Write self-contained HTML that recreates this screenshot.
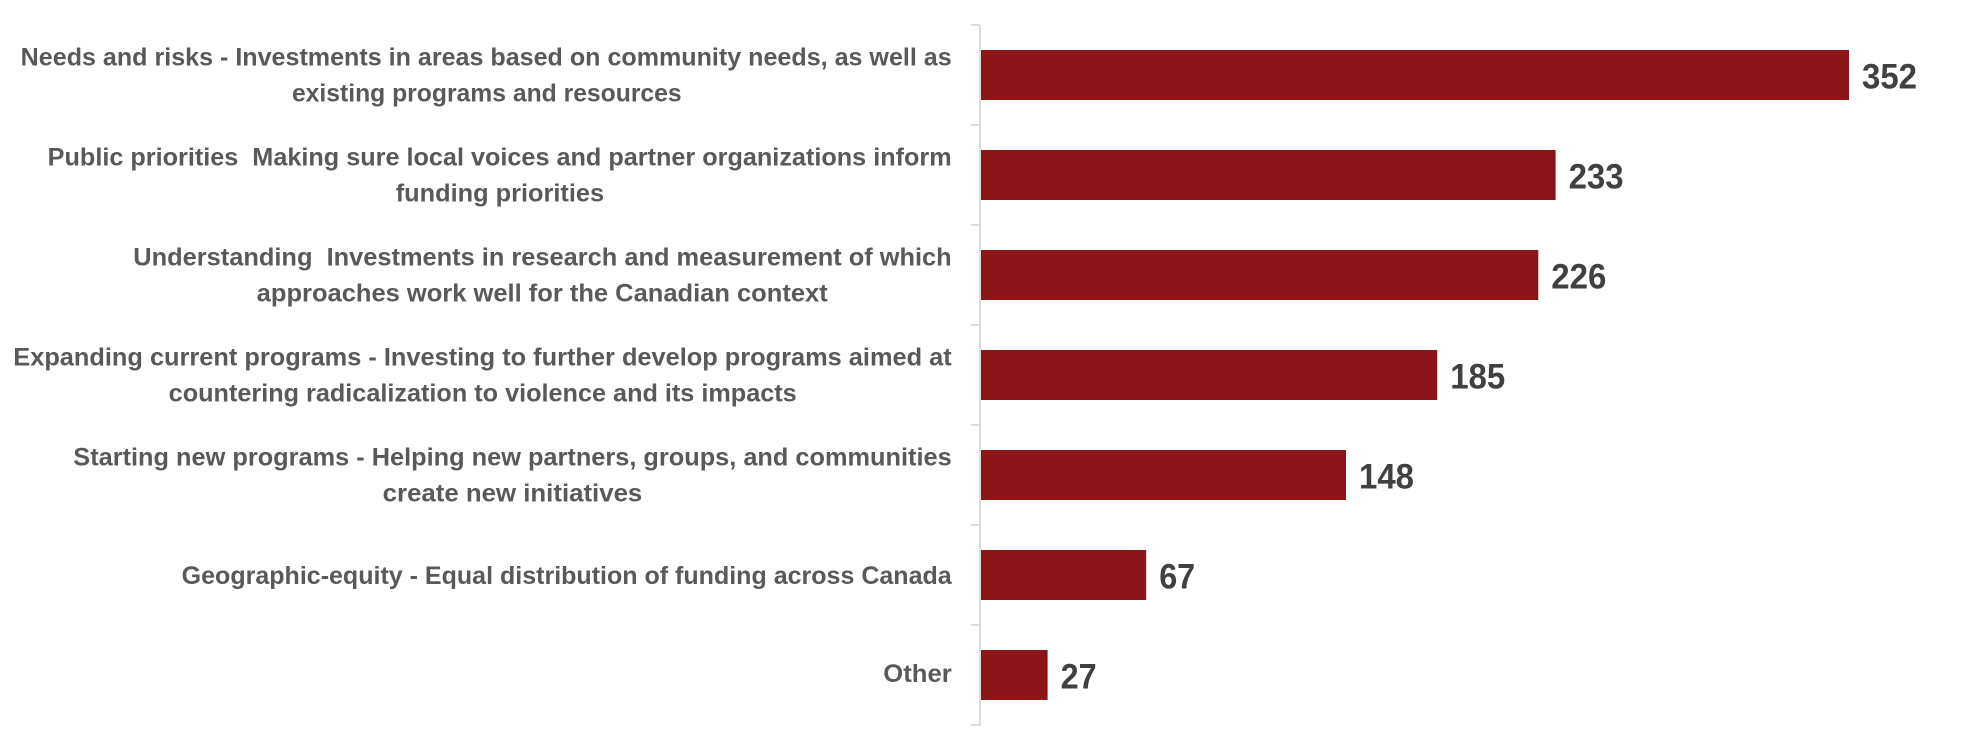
<!DOCTYPE html>
<html>
<head>
<meta charset="utf-8">
<style>
  html, body { margin: 0; padding: 0; background: #ffffff; }
  body { width: 1967px; height: 741px; overflow: hidden; }
  svg { display: block; }
  .cat { font-family: "Liberation Sans", Arial, sans-serif; font-weight: bold; font-size: 25px; fill: #595959; white-space: pre; }
  .val { font-family: "Liberation Sans", Arial, sans-serif; font-weight: bold; font-size: 35px; fill: #404040; }
</style>
</head>
<body>
<svg width="1967" height="741" viewBox="0 0 1967 741" xmlns="http://www.w3.org/2000/svg">
  <rect x="0" y="0" width="1967" height="741" fill="#ffffff"/>

  <!-- axis line and ticks -->
  <line x1="980" y1="25" x2="980" y2="725" stroke="#D9D9D9" stroke-width="1.8"/>
  <g stroke="#D9D9D9" stroke-width="1.8">
    <line x1="971" y1="25" x2="980" y2="25"/>
    <line x1="971" y1="125" x2="980" y2="125"/>
    <line x1="971" y1="225" x2="980" y2="225"/>
    <line x1="971" y1="325" x2="980" y2="325"/>
    <line x1="971" y1="425" x2="980" y2="425"/>
    <line x1="971" y1="525" x2="980" y2="525"/>
    <line x1="971" y1="625" x2="980" y2="625"/>
    <line x1="971" y1="725" x2="980" y2="725"/>
  </g>

  <!-- bars -->
  <g fill="#8B1518">
    <rect x="981" y="50" width="868" height="50"/>
    <rect x="981" y="150" width="574.6" height="50"/>
    <rect x="981" y="250" width="557.3" height="50"/>
    <rect x="981" y="350" width="456.2" height="50"/>
    <rect x="981" y="450" width="365" height="50"/>
    <rect x="981" y="550" width="165.2" height="50"/>
    <rect x="981" y="650" width="66.6" height="50"/>
  </g>

  <!-- value labels -->
  <text class="val" x="1862" y="88.5" textLength="55" lengthAdjust="spacingAndGlyphs">352</text>
  <text class="val" x="1568.6" y="188.5" textLength="55" lengthAdjust="spacingAndGlyphs">233</text>
  <text class="val" x="1551.3" y="288.5" textLength="55" lengthAdjust="spacingAndGlyphs">226</text>
  <text class="val" x="1450.2" y="388.5" textLength="55" lengthAdjust="spacingAndGlyphs">185</text>
  <text class="val" x="1359" y="488.5" textLength="55" lengthAdjust="spacingAndGlyphs">148</text>
  <text class="val" x="1159.2" y="588.5" textLength="36" lengthAdjust="spacingAndGlyphs">67</text>
  <text class="val" x="1060.6" y="688.5" textLength="36" lengthAdjust="spacingAndGlyphs">27</text>

  <!-- category labels -->
  <text class="cat" x="486.2" y="65.5" text-anchor="middle" textLength="931" lengthAdjust="spacingAndGlyphs">Needs and risks - Investments in areas based on community needs, as well as</text>
  <text class="cat" x="486.8" y="101.5" text-anchor="middle" textLength="389.7" lengthAdjust="spacingAndGlyphs">existing programs and resources</text>

  <text class="cat" x="499.7" y="165.5" text-anchor="middle" textLength="904" lengthAdjust="spacingAndGlyphs">Public priorities  Making sure local voices and partner organizations inform</text>
  <text class="cat" x="499.9" y="201.5" text-anchor="middle" textLength="208.3" lengthAdjust="spacingAndGlyphs">funding priorities</text>

  <text class="cat" x="542.5" y="265.5" text-anchor="middle" textLength="818.4" lengthAdjust="spacingAndGlyphs">Understanding  Investments in research and measurement of which</text>
  <text class="cat" x="542.2" y="301.5" text-anchor="middle" textLength="571" lengthAdjust="spacingAndGlyphs">approaches work well for the Canadian context</text>

  <text class="cat" x="482.5" y="365.5" text-anchor="middle" textLength="938.4" lengthAdjust="spacingAndGlyphs">Expanding current programs - Investing to further develop programs aimed at</text>
  <text class="cat" x="482.7" y="401.5" text-anchor="middle" textLength="628" lengthAdjust="spacingAndGlyphs">countering radicalization to violence and its impacts</text>

  <text class="cat" x="512.5" y="465.5" text-anchor="middle" textLength="878.4" lengthAdjust="spacingAndGlyphs">Starting new programs - Helping new partners, groups, and communities</text>
  <text class="cat" x="512.5" y="501.5" text-anchor="middle" textLength="259.6" lengthAdjust="spacingAndGlyphs">create new initiatives</text>

  <text class="cat" x="951.7" y="584" text-anchor="end" textLength="770" lengthAdjust="spacingAndGlyphs">Geographic-equity - Equal distribution of funding across Canada</text>

  <text class="cat" x="951.7" y="682" text-anchor="end" textLength="68.4" lengthAdjust="spacingAndGlyphs">Other</text>
</svg>
</body>
</html>
